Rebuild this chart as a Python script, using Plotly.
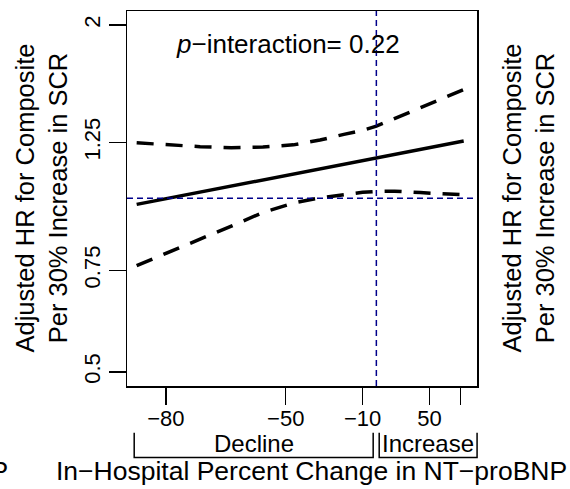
import math
import plotly.graph_objects as go

# ---------------- data ----------------
pct_change = [-84, -79, -74, -67, -58, -47, -35, -22, -10, 0, 15, 40, 65, 95]
hr_fit     = [0.976, 1.003, 1.025, 1.050, 1.076, 1.102, 1.125, 1.146, 1.162, 1.175, 1.191, 1.215, 1.236, 1.257]
hr_upper   = [1.248, 1.237, 1.229, 1.224, 1.227, 1.238, 1.262, 1.291, 1.312, 1.334, 1.375, 1.432, 1.488, 1.544]
hr_lower   = [0.764, 0.810, 0.851, 0.895, 0.945, 0.981, 1.002, 1.015, 1.024, 1.028, 1.029, 1.023, 1.018, 1.014]

x_tick_vals   = [-80, -50, -10, 50, 90]
x_tick_labels = ["\u221280", "\u221250", "\u221210", "50", ""]
y_tick_vals   = [0.5, 0.75, 1.25, 2]
y_tick_labels = ["0.5", "0.75", "1.25", "2"]

ref_pct = 0      # vertical reference (no change)
ref_hr = 1       # horizontal reference (HR = 1)

group_labels = ["Decline", "Increase"]
group_bounds = [(-84.3, -2.4), (2.2, 116)]

p_text = "<i>p</i>\u2212interaction= 0.22"
x_title = "In\u2212Hospital Percent Change in NT\u2212proBNP"
y_title = "Adjusted HR for Composite<br>Per 30% Increase in SCR"

# ---------------- helpers ----------------
def to_ratio(p):
    return 1 + p / 100.0

X_RANGE = [-0.828, 0.3342]      # log10 of ratio
Y_RANGE = [-0.3257, 0.3250]     # log10 of HR

def xpaper(p):
    return (math.log10(to_ratio(p)) - X_RANGE[0]) / (X_RANGE[1] - X_RANGE[0])

L, R, T, B = 127, 477, 9, 386
PW, PH = R - L, B - T

def xpx(px):
    return (px - L) / PW

def ypx(py):
    return (B - py) / PH

xr = [to_ratio(p) for p in pct_change]
FONT = "Liberation Sans, Arial, Helvetica, sans-serif"
BLUE = "#00008B"

fig = go.Figure()
fig.add_trace(go.Scatter(x=xr, y=hr_upper, mode="lines",
                         line=dict(color="black", width=3.5, dash="17px,12px"),
                         showlegend=False, hoverinfo="skip"))
fig.add_trace(go.Scatter(x=xr, y=hr_lower, mode="lines",
                         line=dict(color="black", width=3.5, dash="17px,12px"),
                         showlegend=False, hoverinfo="skip"))
fig.add_trace(go.Scatter(x=xr, y=hr_fit, mode="lines",
                         line=dict(color="black", width=3.5),
                         showlegend=False, hoverinfo="skip"))

# reference lines
fig.add_shape(type="line", xref="paper", yref="y",
              x0=0, x1=1, y0=ref_hr, y1=ref_hr,
              line=dict(color=BLUE, width=1.5, dash="6px,4px"))
fig.add_shape(type="line", xref="paper", yref="paper",
              x0=xpaper(ref_pct), x1=xpaper(ref_pct), y0=0, y1=1,
              line=dict(color=BLUE, width=1.5, dash="6px,4px"))

# brackets below axis
y_top = ypx(433)
y_bot = ypx(458)
for lab, (a, b) in zip(group_labels, group_bounds):
    xa, xb = xpaper(a), xpaper(b)
    fig.add_shape(type="path", xref="paper", yref="paper",
                  path=f"M {xa} {y_top} L {xa} {y_bot} L {xb} {y_bot} L {xb} {y_top}",
                  line=dict(color="black", width=1.5))
    fig.add_annotation(x=(xa + xb) / 2, y=ypx(444), xref="paper", yref="paper",
                       text=lab, showarrow=False, font=dict(size=24, color="black"),
                       xanchor="center", yanchor="middle")

# p-interaction
fig.add_annotation(x=xpx(287.5), y=ypx(42), xref="paper", yref="paper",
                   text=p_text, showarrow=False, font=dict(size=26, color="black"),
                   xanchor="center", yanchor="middle")

# x title
fig.add_annotation(x=xpx(569), y=ypx(471), xref="paper", yref="paper",
                   text=x_title, showarrow=False, font=dict(size=26.5, color="black"),
                   xanchor="right", yanchor="middle")
# partial title of the previous panel (clipped on the left)
fig.add_annotation(x=xpx(10), y=ypx(471), xref="paper", yref="paper",
                   text=x_title, showarrow=False, font=dict(size=26.5, color="black"),
                   xanchor="right", yanchor="middle")

# y titles (this panel and neighbouring panel on the right)
for px in (41, 528):
    fig.add_annotation(x=xpx(px), y=0.5, xref="paper", yref="paper",
                       text=y_title, showarrow=False, textangle=-90,
                       font=dict(size=25.5, color="black"),
                       xanchor="center", yanchor="middle")

fig.update_xaxes(type="log", range=X_RANGE,
                 tickvals=[to_ratio(v) for v in x_tick_vals], ticktext=x_tick_labels,
                 ticks="outside", ticklen=17, tickwidth=1.5, tickcolor="black",
                 ticklabelstandoff=-5,
                 showline=True, linecolor="black", linewidth=1.5, mirror=True,
                 showgrid=False, zeroline=False,
                 tickfont=dict(size=22, color="black"))
fig.update_yaxes(type="log", range=Y_RANGE,
                 tickvals=y_tick_vals, ticktext=y_tick_labels, tickangle=-90,
                 ticks="outside", ticklen=17, tickwidth=1.5, tickcolor="black",
                 showline=True, linecolor="black", linewidth=1.5, mirror=True,
                 showgrid=False, zeroline=False,
                 tickfont=dict(size=22, color="black"))

fig.update_layout(width=570, height=489,
                  margin=dict(l=L, r=570 - R, t=T, b=489 - B),
                  paper_bgcolor="white", plot_bgcolor="white",
                  font=dict(family=FONT, color="black"),
                  showlegend=False, hovermode=False)

fig.write_html("out.html",
               config={"displayModeBar": False, "staticPlot": True},
               post_script="document.body.style.margin='0px';document.body.style.overflow='hidden';")
